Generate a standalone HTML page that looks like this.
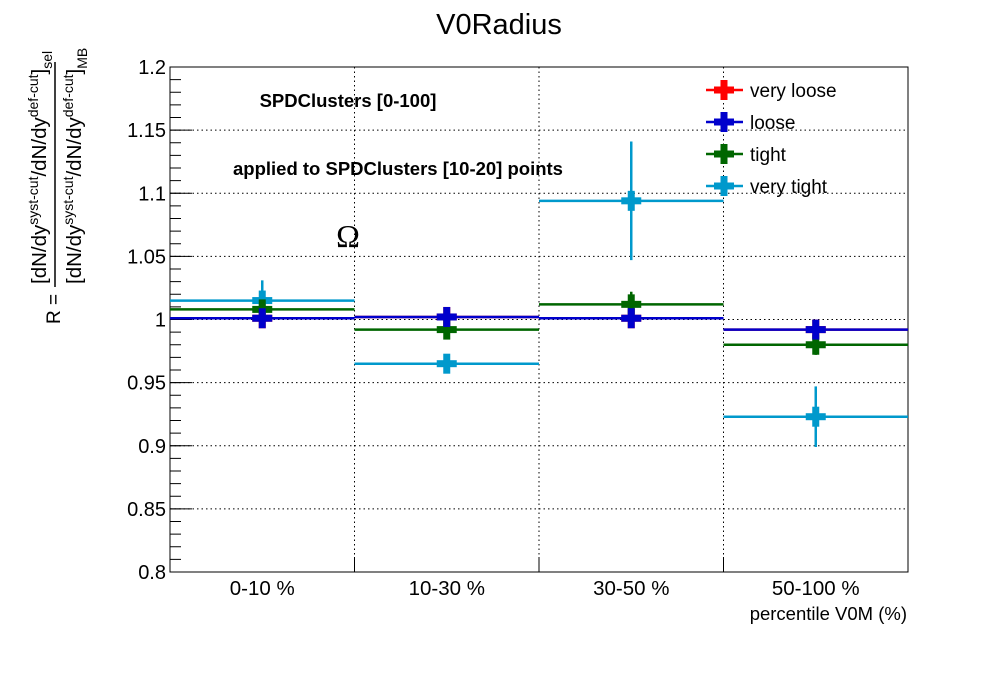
<!DOCTYPE html>
<html><head><meta charset="utf-8"><style>
html,body{margin:0;padding:0;background:#fff;}
svg{display:block;font-family:"Liberation Sans",sans-serif;}
</style></head><body>
<svg id="chart" width="998" height="673" viewBox="0 0 998 673">
<text x="499" y="34" font-size="29" text-anchor="middle">V0Radius</text>
<g id="grid"></g>
<g id="axes"></g>
<g id="series"></g>
<text x="348" y="107" font-size="18.5" font-weight="bold" text-anchor="middle">SPDClusters [0-100]</text>
<text x="398" y="175" font-size="18.5" font-weight="bold" text-anchor="middle">applied to SPDClusters [10-20] points</text>
<text x="348" y="247" font-size="32" text-anchor="middle" font-family="Liberation Serif,serif">Ω</text>
<g>
<text transform="translate(60,324) rotate(-90)" font-size="19" text-anchor="start">R =</text>
<line x1="55" y1="287" x2="55" y2="62" stroke="#000" stroke-width="1.5"/>
<text transform="translate(46,284) rotate(-90)" font-size="20.5">[dN/dy<tspan font-size="14" dy="-8">syst-cut</tspan><tspan dy="8">/dN/dy</tspan><tspan font-size="14" dy="-8">def-cut</tspan><tspan dy="8">]</tspan><tspan font-size="14" dy="6">sel</tspan></text>
<text transform="translate(81,284) rotate(-90)" font-size="20.5">[dN/dy<tspan font-size="14" dy="-8">syst-cut</tspan><tspan dy="8">/dN/dy</tspan><tspan font-size="14" dy="-8">def-cut</tspan><tspan dy="8">]</tspan><tspan font-size="14" dy="6">MB</tspan></text>
</g>
<text x="907" y="620" font-size="18.5" text-anchor="end">percentile V0M (%)</text>
<g id="legend"></g>
</svg>
<script>
const categories = ["0-10 %","10-30 %","30-50 %","50-100 %"];
const seriesNames = ["very loose","loose","tight","very tight"];
const seriesColors = ["#ff0000","#0000cc","#006600","#0099cc"];
const veryLooseVals = [1.001,1.002,1.001,0.992];
const looseVals = [1.001,1.002,1.001,0.992];
const tightVals = [1.008,0.992,1.012,0.980];
const veryTightVals = [1.015,0.965,1.094,0.923];
const veryLooseErr = [0.004,0.004,0.004,0.005];
const looseErr = [0.004,0.004,0.004,0.005];
const tightErr = [0.006,0.005,0.010,0.008];
const veryTightErr = [0.016,0.006,0.047,0.024];
const yTicks = [0.8,0.85,0.9,0.95,1,1.05,1.1,1.15,1.2];
const yTickLabels = ["0.8","0.85","0.9","0.95","1","1.05","1.1","1.15","1.2"];

const L=170,R=908,T=67,B=572,yMin=0.8,yMax=1.2;
const NS="http://www.w3.org/2000/svg";
const bw=(R-L)/categories.length;
const xs=i=>L+bw*i;
const ys=v=>B-(v-yMin)/(yMax-yMin)*(B-T);
function mk(tag,attrs,parent){const e=document.createElementNS(NS,tag);for(const k in attrs)e.setAttribute(k,attrs[k]);parent.appendChild(e);return e;}
const grid=document.getElementById('grid'),axes=document.getElementById('axes'),ser=document.getElementById('series'),leg=document.getElementById('legend');
yTicks.forEach((v,i)=>{
  if(i>0&&i<yTicks.length-1){const g=mk('line',{x1:L,x2:R,y1:ys(v),y2:ys(v),stroke:'#000','stroke-dasharray':'1.5,3','stroke-width':1},grid);
  
  }
  mk('line',{x1:L,x2:L+22,y1:ys(v),y2:ys(v),stroke:'#000'},axes);
  const lb=mk('text',{x:L-4,y:ys(v)+7,'font-size':20,'text-anchor':'end'},axes);lb.textContent=yTickLabels[i];
  
  
});
for(let v=yMin;v<yMax-1e-9;v+=0.01){mk('line',{x1:L,x2:L+11,y1:ys(v),y2:ys(v),stroke:'#000'},axes);}
for(let i=1;i<categories.length;i++){
  const g=mk('line',{x1:xs(i),x2:xs(i),y1:T,y2:B,stroke:'#000','stroke-dasharray':'1.5,3'},grid);
  
  
  mk('line',{x1:xs(i),x2:xs(i),y1:B,y2:B-15,stroke:'#000'},axes);
}
mk('rect',{x:L,y:T,width:R-L,height:B-T,fill:'none',stroke:'#000'},axes);
categories.forEach((c,i)=>{const t=mk('text',{x:xs(i)+bw/2,y:595,'font-size':20.5,'text-anchor':'middle'},axes);t.textContent=c;
  
  });
const vals=[veryLooseVals,looseVals,tightVals,veryTightVals];
const errs=[veryLooseErr,looseErr,tightErr,veryTightErr];
function marker(g,cx,cy,col){mk('rect',{x:cx-10,y:cy-3.5,width:20,height:7,fill:col},g);mk('rect',{x:cx-3.5,y:cy-10,width:7,height:20,fill:col},g);}
[3,0,2,1].forEach(s=>{
  const g=mk('g',{},ser);
  
  
  vals[s].forEach((v,i)=>{
    const cx=xs(i)+bw/2,cy=ys(v);
    mk('line',{x1:xs(i),x2:xs(i+1),y1:cy,y2:cy,stroke:seriesColors[s],'stroke-width':2.5},g);
    mk('line',{x1:cx,x2:cx,y1:ys(v+errs[s][i]),y2:ys(v-errs[s][i]),stroke:seriesColors[s],'stroke-width':2.5},g);
    marker(g,cx,cy,seriesColors[s]);
  });
});
seriesNames.forEach((n,s)=>{
  const y=90+32*s;const g=mk('g',{},leg);
  
  
  mk('line',{x1:706,x2:743,y1:y,y2:y,stroke:seriesColors[s],'stroke-width':2.5},g);
  marker(g,724,y,seriesColors[s]);
  const t=mk('text',{x:750,y:y+7,'font-size':19},g);t.textContent=n;
});
</script>
</body></html>
